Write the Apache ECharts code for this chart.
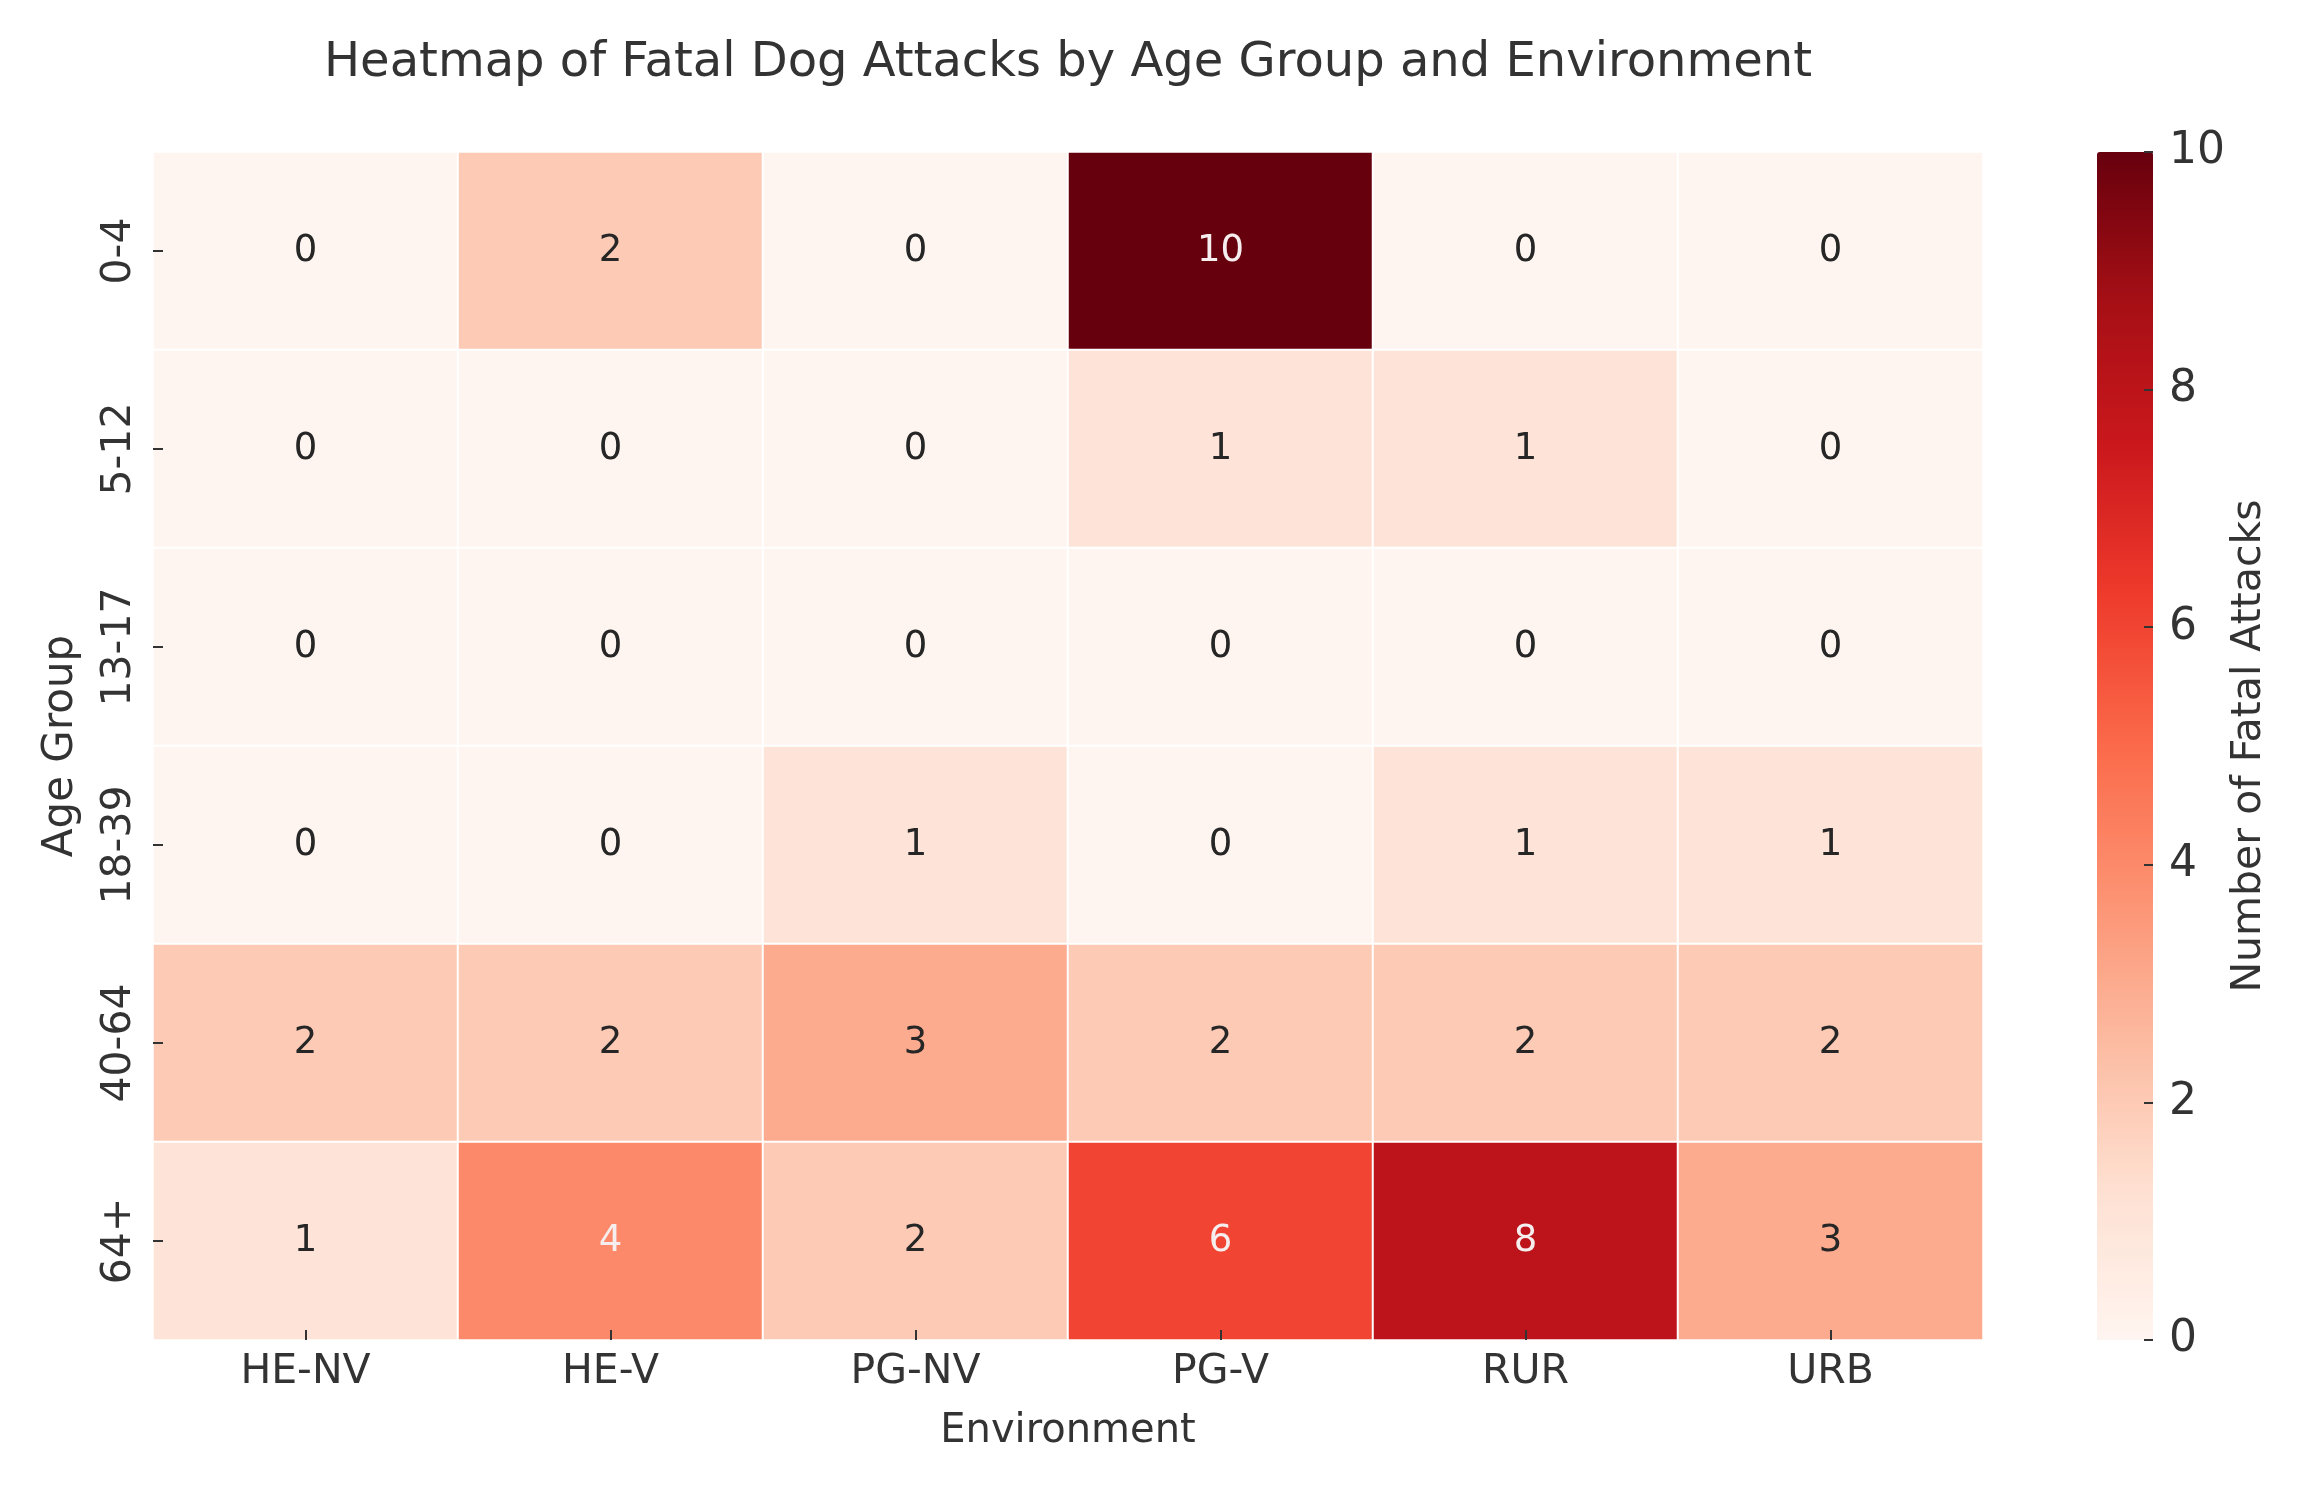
<!DOCTYPE html>
<html>
<head>
<meta charset="utf-8">
<script src="https://cdn.jsdelivr.net/npm/echarts@6/dist/echarts.min.js"></script>
<style>html,body{margin:0;padding:0;background:#fff}#c{width:2315px;height:1486px}</style>
</head>
<body>
<div id="c"></div>
<script>
const environments = ['HE-NV', 'HE-V', 'PG-NV', 'PG-V', 'RUR', 'URB'];
const ageGroups = ['0-4', '5-12', '13-17', '18-39', '40-64', '64+'];
// rows follow ageGroups, columns follow environments
const row_0_4   = [0, 2, 0, 10, 0, 0];
const row_5_12  = [0, 0, 0, 1, 1, 0];
const row_13_17 = [0, 0, 0, 0, 0, 0];
const row_18_39 = [0, 0, 1, 0, 1, 1];
const row_40_64 = [2, 2, 3, 2, 2, 2];
const row_64p   = [1, 4, 2, 6, 8, 3];
const colorbarTicks = [0, 2, 4, 6, 8, 10];

const rows = [row_0_4, row_5_12, row_13_17, row_18_39, row_40_64, row_64p];
const reds = ['#fff5f0','#fee0d2','#fcbba1','#fc9272','#fb6a4a','#ef3b2c','#cb181d','#a50f15','#67000d'];
const FONT = 'DejaVu Sans';

const data = [];
rows.forEach((r, yi) => r.forEach((v, xi) => {
  data.push({value: [xi, yi, v], label: {color: v >= 4 ? '#f6eeee' : '#262626'}});
}));

const chart = echarts.init(document.getElementById('c'));
chart.setOption({
  backgroundColor: '#ffffff',
  animation: false,
  textStyle: {fontFamily: FONT},
  title: {
    text: 'Heatmap of Fatal Dog Attacks by Age Group and Environment',
    left: 1068, top: 40, padding: 0, textAlign: 'center',
    textStyle: {fontFamily: FONT, fontSize: 48, fontWeight: 'normal', color: '#333'}
  },
  grid: [
    {left: 153, top: 152, width: 1830, height: 1188},
    {left: 2097, top: 152, width: 56, height: 1188},
    {left: 2153, top: 152, width: 1, height: 1188}
  ],
  xAxis: [
    {
      type: 'category', data: environments, gridIndex: 0,
      axisLine: {show: false},
      axisTick: {show: true, inside: true, length: 10, alignWithLabel: true, lineStyle: {color: '#333', width: 2}},
      axisLabel: {fontFamily: FONT, fontSize: 41, color: '#333', margin: 12},
      splitLine: {show: false},
      name: 'Environment', nameLocation: 'middle', nameGap: 72,
      nameTextStyle: {fontFamily: FONT, fontSize: 40, color: '#333'},
      zlevel: 1
    },
    {type: 'value', gridIndex: 1, show: false, min: 0, max: 1},
    {type: 'value', gridIndex: 2, show: false, min: 0, max: 1}
  ],
  yAxis: [
    {
      type: 'category', data: ageGroups, gridIndex: 0, inverse: true,
      axisLine: {show: false},
      axisTick: {show: true, inside: true, length: 10, alignWithLabel: true, lineStyle: {color: '#333', width: 2}},
      axisLabel: {fontFamily: FONT, fontSize: 41, color: '#333', rotate: 90, margin: 13},
      splitLine: {show: false},
      name: 'Age Group', nameLocation: 'middle', nameGap: 71, nameRotate: 90,
      nameTextStyle: {fontFamily: FONT, fontSize: 42, color: '#333'},
      zlevel: 1
    },
    {
      type: 'value', gridIndex: 1, position: 'right', min: 0, max: 10, interval: 2,
      axisLine: {show: false, onZero: false},
      axisTick: {show: false},
      axisLabel: {fontFamily: FONT, fontSize: 44, color: '#333', margin: 16,
        formatter: v => colorbarTicks.includes(v) ? String(v) : ''},
      splitLine: {show: false},
      name: 'Number of Fatal Attacks', nameLocation: 'middle', nameGap: 76, nameRotate: 90,
      nameTextStyle: {fontFamily: FONT, fontSize: 41, color: '#333'},
      zlevel: 1
    },
    {
      type: 'value', gridIndex: 2, position: 'left', min: 0, max: 10, interval: 2,
      axisLine: {show: false},
      axisTick: {show: true, inside: false, length: 9, lineStyle: {color: '#333', width: 2}},
      axisLabel: {show: false},
      splitLine: {show: false},
      zlevel: 1
    }
  ],
  visualMap: {
    type: 'continuous', seriesIndex: 0, min: 0, max: 10,
    calculable: false, show: true, text: null, showLabel: false,
    orient: 'vertical', left: 2097, top: 152, padding: 0,
    itemWidth: 56, itemHeight: 1188,
    inRange: {color: reds}, hoverLink: false
  },
  series: [{
    type: 'heatmap', xAxisIndex: 0, yAxisIndex: 0,
    data: data,
    itemStyle: {borderColor: '#ffffff', borderWidth: 2},
    label: {show: true, fontFamily: FONT, fontSize: 37, formatter: p => String(p.value[2])},
    emphasis: {disabled: true}
  }]
});
</script>
</body>
</html>
